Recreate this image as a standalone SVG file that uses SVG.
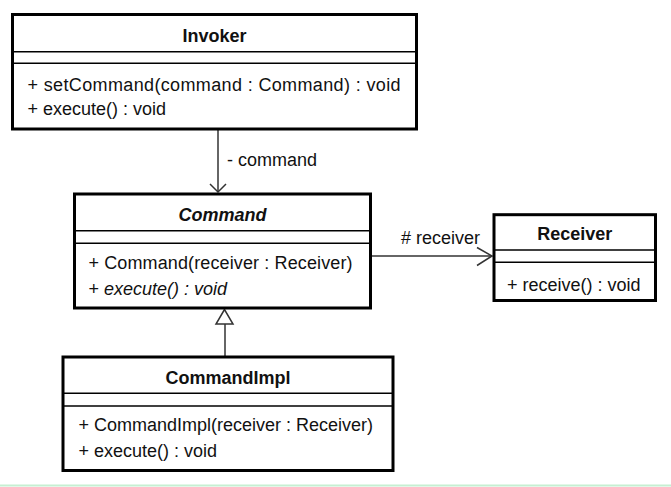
<svg xmlns="http://www.w3.org/2000/svg" width="671" height="487" viewBox="0 0 671 487">
<style>
.box{fill:#fff;stroke:#000;stroke-width:3}
.div{stroke:#000;stroke-width:1.5}
.t{font-family:"Liberation Sans",Arial,sans-serif;font-size:18px;fill:#111}
.title{font-weight:bold;text-anchor:middle}
.conn{stroke:#333;stroke-width:1.5;fill:none}
</style>
<rect width="671" height="487" fill="#fff"/>
<line x1="0" y1="485.5" x2="671" y2="485.5" stroke="#c6efd2" stroke-width="2"/>
<g id="connectors">
<line class="conn" x1="218" y1="130" x2="218" y2="192"/>
<polyline class="conn" points="210,184 218,192 226,184"/>
<text class="t" x="227" y="166">- command</text>
<line class="conn" x1="372" y1="256" x2="492" y2="256"/>
<polyline class="conn" points="477,247.5 492,256 477,265.5"/>
<text class="t" x="401" y="244"># receiver</text>
<line class="conn" x1="225" y1="324" x2="225" y2="356"/>
<polygon points="224.5,309.5 216,324 233,324" fill="#fff" stroke="#333" stroke-width="1.5"/>
</g>
<g id="Invoker">
<rect class="box" x="12.5" y="14.5" width="404" height="114.5"/>
<line class="div" x1="12.5" y1="51.7" x2="416.5" y2="51.7"/>
<line class="div" x1="12.5" y1="63.3" x2="416.5" y2="63.3"/>
<text class="t title" x="214.5" y="42">Invoker</text>
<text class="t" x="27.5" y="90.5" textLength="373" lengthAdjust="spacing">+ setCommand(command : Command) : void</text>
<text class="t" x="27.5" y="115">+ execute() : void</text>
</g>
<g id="Command">
<rect class="box" x="74.5" y="194" width="296" height="114"/>
<line class="div" x1="74.5" y1="230.7" x2="370.5" y2="230.7"/>
<line class="div" x1="74.5" y1="243.3" x2="370.5" y2="243.3"/>
<text class="t title" x="222.5" y="221" font-style="italic">Command</text>
<text class="t" x="88.5" y="269" textLength="264" lengthAdjust="spacing">+ Command(receiver : Receiver)</text>
<text class="t" x="88.5" y="295">+ <tspan font-style="italic">execute() : void</tspan></text>
</g>
<g id="Receiver">
<rect class="box" x="494" y="214.7" width="161.5" height="85.8"/>
<line class="div" x1="494" y1="250" x2="655.5" y2="250"/>
<line class="div" x1="494" y1="262.3" x2="655.5" y2="262.3"/>
<text class="t title" x="574.7" y="240">Receiver</text>
<text class="t" x="507" y="290.5">+ receive() : void</text>
</g>
<g id="CommandImpl">
<rect class="box" x="63" y="357" width="330" height="113.5"/>
<line class="div" x1="63" y1="393.3" x2="393" y2="393.3"/>
<line class="div" x1="63" y1="406" x2="393" y2="406"/>
<text class="t title" x="228" y="384">CommandImpl</text>
<text class="t" x="78.5" y="431">+ CommandImpl(receiver : Receiver)</text>
<text class="t" x="78.5" y="456.5">+ execute() : void</text>
</g>
</svg>
